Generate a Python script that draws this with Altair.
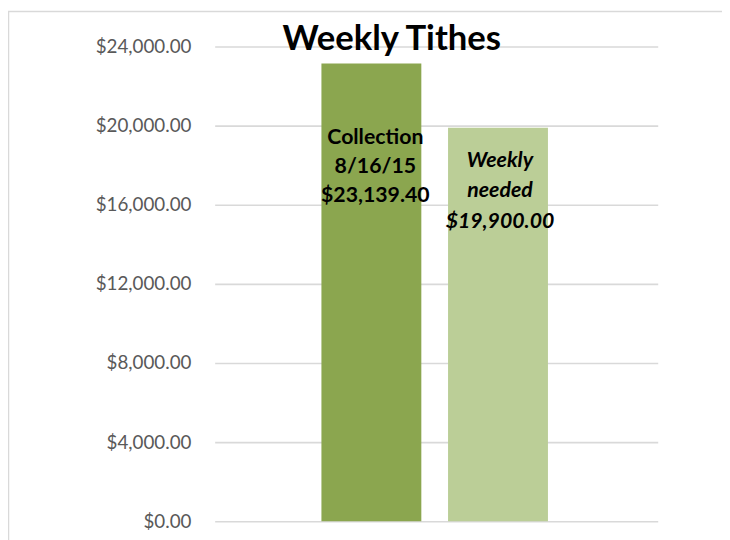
import altair as alt
import pandas as pd

# ---- data ----
series = ["Collection 8/16/15", "Weekly needed"]
values = [23139.40, 19900.00]
label_text = ["Collection\n8/16/15\n$23,139.40", "Weekly\nneeded\n$19,900.00"]
colors = ["#8BA64F", "#BBCE97"]
y_ticks = [0, 4000, 8000, 12000, 16000, 20000, 24000]
chart_title = "Weekly Tithes"

df = pd.DataFrame({"series": series, "value": values, "label": label_text})

FONT = "Lato"

x_enc = alt.X(
    "series:N",
    sort=series,
    axis=None,
    scale=alt.Scale(paddingInner=0.211, paddingOuter=0.855, align=0.493),
)

frame = alt.Chart(pd.DataFrame({"k": [0]})).mark_rect(
    fillOpacity=0, stroke="#D9D9D9", strokeWidth=1.5
).encode(
    x=alt.value(-208.5), x2=alt.value(530), y=alt.value(-35.5), y2=alt.value(520)
)

bars = alt.Chart(df).mark_bar().encode(
    x=x_enc,
    y=alt.Y(
        "value:Q",
        scale=alt.Scale(domain=[0, 24000]),
        axis=alt.Axis(
            values=y_ticks,
            format="$,.2f",
            title=None,
            domain=False,
            ticks=False,
            labelFont=FONT,
            labelFontSize=19,
            labelColor="#595959",
            labelPadding=24,
            grid=True,
            gridColor="#D9D9D9",
            gridWidth=1.6,
        ),
    ),
    color=alt.Color("series:N", scale=alt.Scale(domain=series, range=colors), legend=None),
)

lab1 = alt.Chart(df).transform_filter(alt.datum.series == series[0]).mark_text(
    font=FONT, fontSize=21.5, fontWeight="bold", color="black",
    lineBreak="\n", lineHeight=29.5, baseline="top", align="center", dy=64, dx=4,
).encode(x=x_enc, y="value:Q", text="label:N")

lab2 = alt.Chart(df).transform_filter(alt.datum.series == series[1]).mark_text(
    font=FONT, fontSize=21.5, fontWeight="bold", fontStyle="italic", color="black",
    lineBreak="\n", lineHeight=30.5, baseline="top", align="center", dy=23, dx=2,
).encode(x=x_enc, y="value:Q", text="label:N")

title = alt.Chart(pd.DataFrame({"t": [chart_title]})).mark_text(
    font=FONT, fontSize=35, fontWeight="bold", color="black",
    baseline="alphabetic", align="center",
).encode(x=alt.value(179), y=alt.value(3), text="t:N")

chart = alt.layer(frame, bars, lab1, lab2, title).properties(
    width=448,
    height=480,
    autosize=alt.AutoSizeParams(type="none"),
    padding={"left": 209, "top": 36, "right": 65, "bottom": 16},
).configure_view(strokeWidth=0)

chart.save("out.html", embed_options={"renderer": "svg", "actions": False})
